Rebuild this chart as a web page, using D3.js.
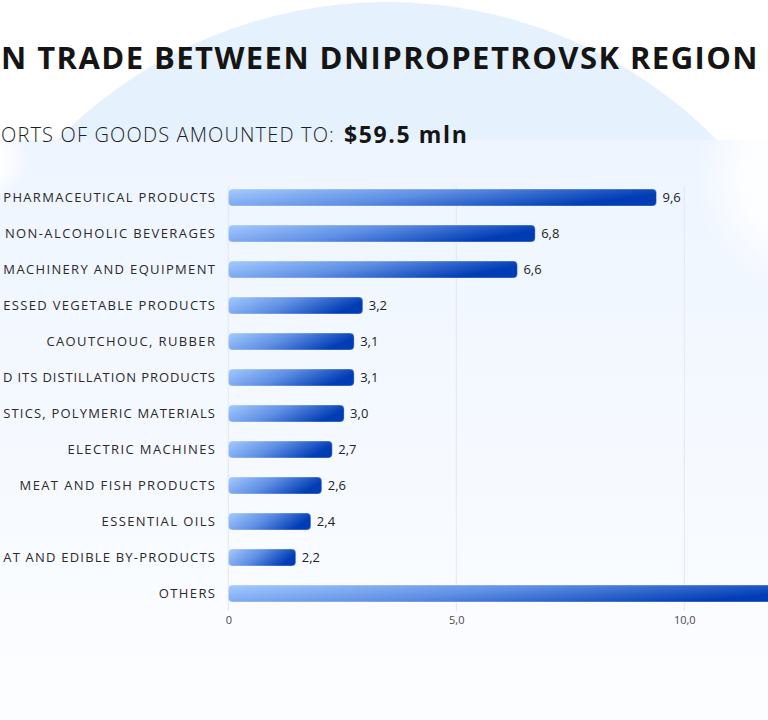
<!DOCTYPE html>
<html>
<head>
<meta charset="utf-8">
<script src="https://cdn.jsdelivr.net/npm/d3@7/dist/d3.min.js"></script>
<style>
  html, body { margin: 0; padding: 0; background: #ffffff; }
  svg { display: block; }
  text { font-family: "Open Sans", "Noto Sans", sans-serif; }
</style>
</head>
<body>
<svg id="chart" width="768" height="720"></svg>
<script>
// ---------- data (texts as visible in the reference, which is cropped at its edges) ----------
const categories = [
  "PHARMACEUTICAL PRODUCTS",
  "NON-ALCOHOLIC BEVERAGES",
  "MACHINERY AND EQUIPMENT",
  "ESSED VEGETABLE PRODUCTS",
  "CAOUTCHOUC, RUBBER",
  "D ITS DISTILLATION PRODUCTS",
  "STICS, POLYMERIC MATERIALS",
  "ELECTRIC MACHINES",
  "MEAT AND FISH PRODUCTS",
  "ESSENTIAL OILS",
  "AT AND EDIBLE BY-PRODUCTS",
  "OTHERS"
];
// value labels as printed in the reference (the OTHERS label lies beyond the right edge)
const valueLabels = ["9,6", "6,8", "6,6", "3,2", "3,1", "3,1", "3,0", "2,7", "2,6", "2,4", "2,2", ""];
// bar lengths as drawn in the reference
const barValues = [9.39, 6.73, 6.34, 2.95, 2.76, 2.76, 2.54, 2.28, 2.05, 1.81, 1.48, 13.0];
const tickValues = [0, 5, 10];
const tickLabels = ["0", "5,0", "10,0"];
const titleText = "N TRADE BETWEEN DNIPROPETROVSK REGION";
const subtitleText = "ORTS OF GOODS AMOUNTED TO:";
const totalText = "$59.5  mln";

// ---------- setup ----------
const W = 768, H = 720;
const svg = d3.select("#chart");
const defs = svg.append("defs");

const barGrad = defs.append("linearGradient").attr("id", "barGrad")
  .attr("x1", 0).attr("y1", 0).attr("x2", 1).attr("y2", 0.3);
barGrad.append("stop").attr("offset", 0).attr("stop-color", "#a4caff");
barGrad.append("stop").attr("offset", 0.5).attr("stop-color", "#5f8fe4");
barGrad.append("stop").attr("offset", 1).attr("stop-color", "#003cb4");

const panelGrad = defs.append("linearGradient").attr("id", "panelGrad")
  .attr("x1", 0).attr("y1", 0).attr("x2", 0).attr("y2", 1);
panelGrad.append("stop").attr("offset", 0).attr("stop-color", "#eef5ff");
panelGrad.append("stop").attr("offset", 0.55).attr("stop-color", "#f6faff");
panelGrad.append("stop").attr("offset", 1).attr("stop-color", "#fefeff");

const glow = defs.append("radialGradient").attr("id", "glow");
glow.append("stop").attr("offset", 0).attr("stop-color", "#ffffff").attr("stop-opacity", 1);
glow.append("stop").attr("offset", 0.55).attr("stop-color", "#ffffff").attr("stop-opacity", 0.85);
glow.append("stop").attr("offset", 1).attr("stop-color", "#ffffff").attr("stop-opacity", 0);

// background
svg.append("rect").attr("width", W).attr("height", H).attr("fill", "#ffffff");
svg.append("circle").attr("cx", 387).attr("cy", 466).attr("r", 464).attr("fill", "#e6f1fe");
svg.append("rect").attr("x", -40).attr("y", 140).attr("width", W + 80).attr("height", H - 140 + 40)
  .attr("fill", "url(#panelGrad)");
svg.append("ellipse").attr("cx", 805).attr("cy", 175).attr("rx", 110).attr("ry", 120).attr("fill", "url(#glow)");
svg.append("ellipse").attr("cx", -25).attr("cy", 160).attr("rx", 55).attr("ry", 45).attr("fill", "url(#glow)");

// helper: fit letter-spacing so that a string spans a target width
function fitSpacing(str, size, weight, target) {
  const t = svg.append("text").attr("font-size", size).attr("font-weight", weight)
    .attr("x", -1000).attr("y", -1000).text(str);
  const w = t.node().getComputedTextLength();
  t.remove();
  return (target - w) / str.length;
}

// title
const titleLS = fitSpacing(titleText, 31, 700, 758);
svg.append("text")
  .attr("x", 1).attr("y", 69)
  .attr("font-size", 31).attr("font-weight", 700)
  .attr("letter-spacing", titleLS)
  .attr("fill", "#151515")
  .text(titleText);

// subtitle
const subLS = fitSpacing(subtitleText, 20, 300, 334);
svg.append("text")
  .attr("x", 1).attr("y", 142)
  .attr("font-size", 20).attr("font-weight", 300)
  .attr("letter-spacing", subLS)
  .attr("fill", "#1e1e1e")
  .text(subtitleText);
const totLS = fitSpacing(totalText, 23, 700, 126);
svg.append("text")
  .attr("x", 344).attr("y", 143)
  .attr("font-size", 23).attr("font-weight", 700)
  .attr("letter-spacing", totLS)
  .attr("fill", "#151515")
  .text(totalText);

// ---------- scales ----------
const x = d3.scaleLinear().domain([0, 10]).range([228.3, 684.3]);
const y = d3.scaleBand().domain(categories).range([179.5, 611.5])
  .paddingInner(0.53).paddingOuter(0.265);

// gridlines
svg.append("g").selectAll("line").data(tickValues).join("line")
  .attr("x1", d => x(d)).attr("x2", d => x(d))
  .attr("y1", 186).attr("y2", 611)
  .attr("stroke", "#e3e7ee").attr("stroke-width", 1);

// x axis labels
const xAxis = d3.axisBottom(x).tickValues(tickValues)
  .tickFormat((d, i) => tickLabels[i]).tickSize(0).tickPadding(0);
const gx = svg.append("g").attr("transform", "translate(0,614)").call(xAxis);
gx.select(".domain").remove();
gx.selectAll("text").attr("font-size", 11).attr("fill", "#4a4a4a")
  .attr("font-family", "'Open Sans', sans-serif").attr("dy", "0.9em");

// category labels (letter-spacing tuned, then clamped so each label stays inside the picture)
const labLS = fitSpacing("CAOUTCHOUC, RUBBER", 13, 400, 170);
const maxLabelW = 213;
svg.append("g").selectAll("text").data(categories).join("text")
  .attr("x", 215)
  .attr("y", d => y(d) + y.bandwidth() / 2)
  .attr("dy", "0.36em")
  .attr("text-anchor", "end")
  .attr("font-size", 13)
  .attr("fill", "#2a2a2a")
  .text(d => d)
  .each(function (d) {
    const base = this.getComputedTextLength();
    let ls = labLS;
    if (base + ls * d.length > maxLabelW) ls = (maxLabelW - base) / d.length;
    d3.select(this).attr("letter-spacing", ls).attr("x", 215 + ls);
  });

// bars
svg.append("g").selectAll("rect").data(categories).join("rect")
  .attr("x", x(0))
  .attr("y", d => y(d))
  .attr("width", (d, i) => x(barValues[i]) - x(0))
  .attr("height", y.bandwidth())
  .attr("rx", 4).attr("ry", 4)
  .attr("fill", "url(#barGrad)")
  .attr("stroke", "#ffffff").attr("stroke-opacity", 0.35).attr("stroke-width", 1);

// value labels
svg.append("g").selectAll("text").data(categories.filter((d, i) => valueLabels[i] !== "")).join("text")
  .attr("x", d => x(barValues[categories.indexOf(d)]) + 6)
  .attr("y", d => y(d) + y.bandwidth() / 2)
  .attr("dy", "0.36em")
  .attr("font-size", 13)
  .attr("fill", "#222222")
  .text(d => valueLabels[categories.indexOf(d)]);
</script>
</body>
</html>
